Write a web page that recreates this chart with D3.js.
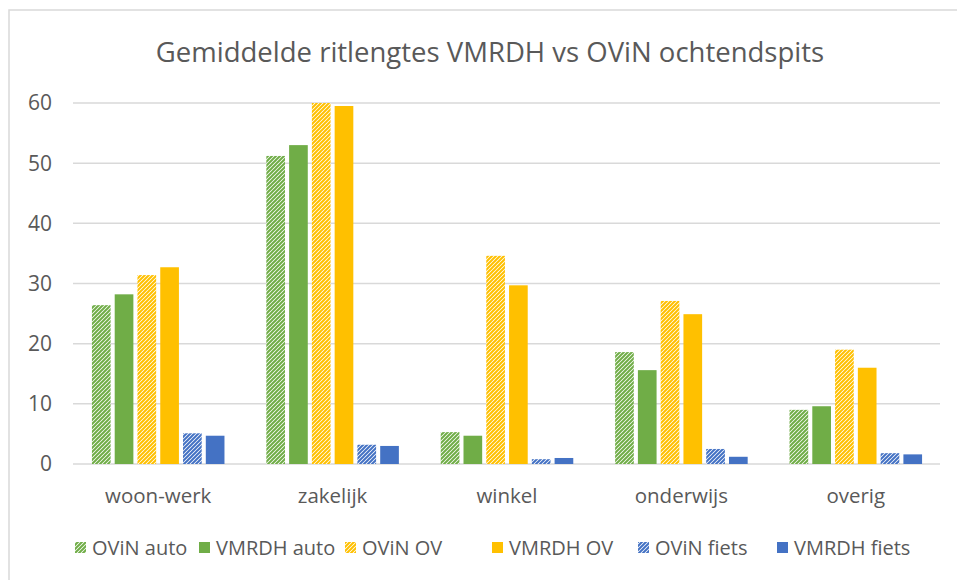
<!DOCTYPE html>
<html>
<head>
<meta charset="utf-8">
<script src="https://cdn.jsdelivr.net/npm/d3@7.9.0/dist/d3.min.js"></script>
<style>
  body { margin: 0; background: #fff; }
  svg { display: block; font-family: "Open Sans", sans-serif; }
</style>
</head>
<body>
<svg id="chart" width="957" height="580"></svg>
<script>
// data
const categories = ['woon-werk', 'zakelijk', 'winkel', 'onderwijs', 'overig'];
const seriesNames = ['OViN auto', 'VMRDH auto', 'OViN OV', 'VMRDH OV', 'OViN fiets', 'VMRDH fiets'];
const ovinAuto = [26.4, 51.2, 5.3, 18.6, 9.0];
const vmrdhAuto = [28.2, 53.0, 4.7, 15.6, 9.6];
const ovinOV = [31.4, 60.0, 34.6, 27.1, 19.0];
const vmrdhOV = [32.7, 59.5, 29.7, 24.9, 16.0];
const ovinFiets = [5.1, 3.2, 0.8, 2.5, 1.8];
const vmrdhFiets = [4.7, 3.0, 1.0, 1.2, 1.6];
const yTicks = [0, 10, 20, 30, 40, 50, 60];

const seriesValues = [ovinAuto, vmrdhAuto, ovinOV, vmrdhOV, ovinFiets, vmrdhFiets];
const baseColors = ['#70ad47', '#70ad47', '#ffc000', '#ffc000', '#4472c4', '#4472c4'];
const hatched = [true, false, true, false, true, false];

const svg = d3.select('#chart');
const textColor = '#595959';

// chart frame (runs off the right / bottom edge like the screenshot)
svg.append('rect')
    .attr('x', 9).attr('y', 10)
    .attr('width', 1000).attr('height', 600)
    .attr('fill', 'none')
    .attr('stroke', '#d9d9d9')
    .attr('stroke-width', 1.5);

// hatch patterns
const defs = svg.append('defs');
seriesNames.forEach((name, i) => {
    if (!hatched[i]) return;
    let p = defs.append('pattern')
        .attr('id', 'hatch' + i)
        .attr('patternUnits', 'userSpaceOnUse')
        .attr('width', 4).attr('height', 4);
    p.append('rect').attr('width', 4).attr('height', 4).attr('fill', '#fff');
    p.append('path')
        .attr('d', 'M-1,1 l2,-2 M0,4 l4,-4 M3,5 l2,-2')
        .attr('stroke', baseColors[i])
        .attr('stroke-width', 2);
});
const fillFor = (i) => hatched[i] ? `url(#hatch${i})` : baseColors[i];

const x0 = d3.scaleBand()
    .domain(categories)
    .range([71, 943])
    .paddingInner(0.24)
    .paddingOuter(0.12);

const x1 = d3.scaleBand()
    .domain(seriesNames)
    .range([0, x0.bandwidth()])
    .paddingInner(0.18);

const y = d3.scaleLinear().domain([0, 60]).range([464, 103]);

// title
svg.append('text')
    .attr('x', 490).attr('y', 62)
    .attr('text-anchor', 'middle')
    .attr('fill', textColor)
    .attr('font-size', 27.5)
    .text('Gemiddelde ritlengtes VMRDH vs OViN ochtendspits');

// gridlines
svg.append('g')
    .selectAll('line')
    .data(yTicks)
    .join('line')
    .attr('x1', 73).attr('x2', 940)
    .attr('y1', (d) => y(d)).attr('y2', (d) => y(d))
    .attr('stroke', '#d9d9d9')
    .attr('stroke-width', 1.5);

// y labels
svg.append('g')
    .selectAll('text')
    .data(yTicks)
    .join('text')
    .attr('x', 52)
    .attr('y', (d) => y(d))
    .attr('dy', '0.35em')
    .attr('text-anchor', 'end')
    .attr('fill', textColor)
    .attr('font-size', 21)
    .text((d) => d);

// bars
seriesNames.forEach((name, i) => {
    svg.append('g')
        .selectAll('rect')
        .data(categories)
        .join('rect')
        .attr('x', (c) => x0(c) + x1(name))
        .attr('y', (c, j) => y(seriesValues[i][j]))
        .attr('width', x1.bandwidth())
        .attr('height', (c, j) => y(0) - y(seriesValues[i][j]))
        .attr('fill', fillFor(i));
});

// category labels
svg.append('g')
    .selectAll('text')
    .data(categories)
    .join('text')
    .attr('x', (c) => x0(c) + x0.bandwidth() / 2)
    .attr('y', 503)
    .attr('text-anchor', 'middle')
    .attr('fill', textColor)
    .attr('font-size', 20.5)
    .text((c) => c);

// legend
const legendX = [75, 199, 345, 492, 638, 777];
const legend = svg.append('g');
seriesNames.forEach((name, i) => {
    legend.append('rect')
        .attr('x', legendX[i]).attr('y', 542)
        .attr('width', 11).attr('height', 11)
        .attr('fill', fillFor(i));
    legend.append('text')
        .attr('x', legendX[i] + 17).attr('y', 555)
        .attr('fill', textColor)
        .attr('font-size', 20)
        .text(name);
});
</script>
</body>
</html>
